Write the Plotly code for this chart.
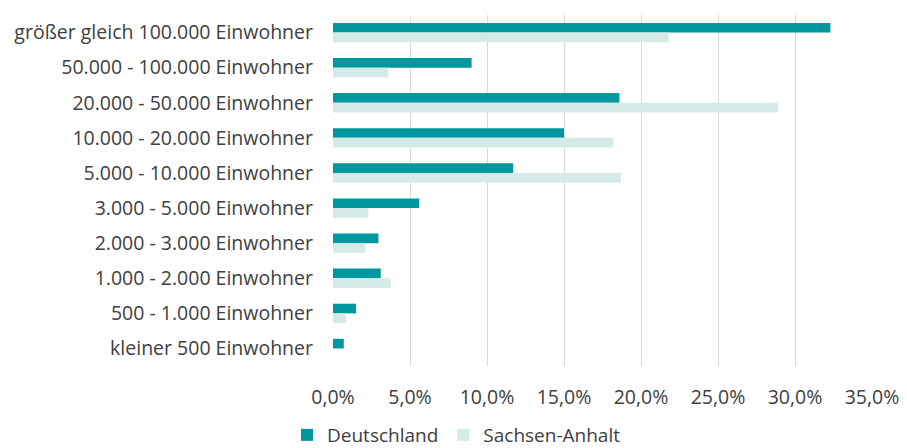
import plotly.graph_objects as go

categories = [
    "größer gleich 100.000 Einwohner",
    "50.000 - 100.000 Einwohner",
    "20.000 - 50.000 Einwohner",
    "10.000 - 20.000 Einwohner",
    "5.000 - 10.000 Einwohner",
    "3.000 - 5.000 Einwohner",
    "2.000 - 3.000 Einwohner",
    "1.000 - 2.000 Einwohner",
    "500 - 1.000 Einwohner",
    "kleiner 500 Einwohner",
]
deutschland = [32.3, 9.0, 18.6, 15.0, 11.7, 5.6, 2.95, 3.1, 1.5, 0.7]
sachsen_anhalt = [21.8, 3.6, 28.9, 18.2, 18.7, 2.3, 2.1, 3.75, 0.86, 0.0]
tick_vals = [0, 5, 10, 15, 20, 25, 30, 35]
tick_text = ["0,0%", "5,0%", "10,0%", "15,0%", "20,0%", "25,0%", "30,0%", "35,0%"]

font_family = "'Open Sans', sans-serif"
text_color = "#404040"
fs = 19.5

fig = go.Figure()
fig.add_trace(go.Bar(
    y=categories, x=deutschland, orientation="h", name="Deutschland",
    marker=dict(color="#00989E", line=dict(width=0)),
))
fig.add_trace(go.Bar(
    y=categories, x=sachsen_anhalt, orientation="h", name="Sachsen-Anhalt",
    marker=dict(color="#D5EAE6", line=dict(width=0)),
))

fig.update_layout(
    width=907, height=448,
    margin=dict(l=333, r=35, t=15, b=82, autoexpand=False),
    barmode="group", bargap=0.45, bargroupgap=0.0,
    plot_bgcolor="white", paper_bgcolor="white",
    font=dict(family=font_family, size=fs, color=text_color),
    legend=dict(
        orientation="h", xref="container", x=287 / 907, xanchor="left",
        yref="container", y=(448 - 435) / 448, yanchor="middle",
        font=dict(size=19, color=text_color), itemwidth=30, traceorder="normal",
    ),
    showlegend=True,
)
fig.update_xaxes(
    range=[0, 35], tickvals=tick_vals, ticktext=tick_text,
    showgrid=True, gridcolor="#D9D9D9", gridwidth=1,
    zeroline=False, showline=False, ticks="", ticklabelstandoff=17,
    tickfont=dict(size=fs, color=text_color), automargin=False,
)
fig.update_yaxes(
    autorange="reversed", showgrid=False, zeroline=False, showline=False,
    ticks="", ticklabelstandoff=19, tickfont=dict(size=fs, color=text_color),
    automargin=False,
)

fig.write_html(
    "out.html",
    config={"displayModeBar": False},
    post_script="document.body.style.margin='0';document.body.style.padding='0';",
)
